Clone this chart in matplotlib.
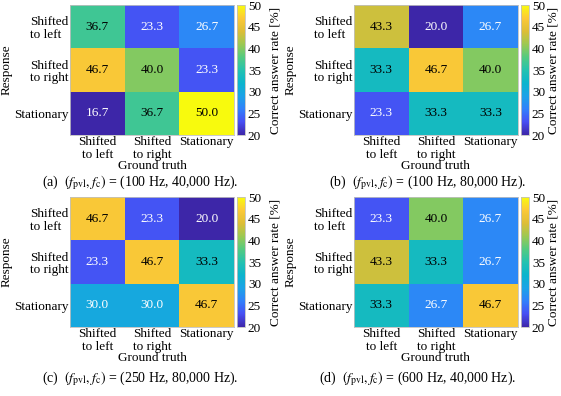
import numpy as np
import matplotlib
matplotlib.use("Agg")
import matplotlib.pyplot as plt
from matplotlib.colors import LinearSegmentedColormap

plt.rcParams['font.family'] = ['Liberation Serif', 'DejaVu Serif']
plt.rcParams['mathtext.fontset'] = 'stix'

# labels shared by all four panels
categories = ["Shifted\nto left", "Shifted\nto right", "Stationary"]
row_labels = ["Shifted\nto left", "Shifted\nto right", "Stationary"]

# correct answer rate [%], rows = response, cols = ground truth
rate_a = [[36.7, 23.3, 26.7],
          [46.7, 40.0, 23.3],
          [16.7, 36.7, 50.0]]
rate_b = [[43.3, 20.0, 26.7],
          [33.3, 46.7, 40.0],
          [23.3, 33.3, 33.3]]
rate_c = [[46.7, 23.3, 20.0],
          [23.3, 46.7, 33.3],
          [30.0, 30.0, 46.7]]
rate_d = [[23.3, 40.0, 26.7],
          [43.3, 33.3, 26.7],
          [33.3, 26.7, 46.7]]

captions = [
    r"(a)  $(f_{\mathrm{pvl}}, f_{\mathrm{c}})$ = (100 Hz, 40,000 Hz).",
    r"(b)  $(f_{\mathrm{pvl}}, f_{\mathrm{c}})$ = (100 Hz, 80,000 Hz).",
    r"(c)  $(f_{\mathrm{pvl}}, f_{\mathrm{c}})$ = (250 Hz, 80,000 Hz).",
    r"(d)  $(f_{\mathrm{pvl}}, f_{\mathrm{c}})$ = (600 Hz, 40,000 Hz).",
]

# parula-like colormap
parula_pts = [
    (0.2422, 0.1504, 0.6603),
    (0.2786, 0.3110, 0.9553),
    (0.1938, 0.5032, 0.9846),
    (0.1085, 0.6379, 0.9066),
    (0.0453, 0.7076, 0.8031),
    (0.1402, 0.7602, 0.6900),
    (0.3307, 0.7941, 0.5006),
    (0.6107, 0.7860, 0.3227),
    (0.8645, 0.7434, 0.2163),
    (0.9906, 0.7891, 0.2174),
    (0.9763, 0.9831, 0.0538),
]
parula = LinearSegmentedColormap.from_list("parula", parula_pts)

fig = plt.figure(figsize=(5.61, 3.96), dpi=100)

# [left, bottom] of each heatmap, colorbar left, colorbar label pad
layout = [
    (0.125, 0.659, 0.4225, 6),
    (0.631, 0.659, 0.9287, 2),
    (0.125, 0.174, 0.4225, 6),
    (0.631, 0.174, 0.9287, 2),
]
cap_x = [0.25, 0.763, 0.25, 0.745]
cap_y = [0.538, 0.538, 0.043, 0.043]

fs = 9.5
for i, rate in enumerate([rate_a, rate_b, rate_c, rate_d]):
    left, bottom, cbl, lpad = layout[i]
    ax = fig.add_axes([left, bottom, 0.292, 0.328])
    cax = fig.add_axes([cbl, bottom, 0.0145, 0.328])
    data = np.array(rate)
    im = ax.imshow(data, cmap=parula, vmin=20, vmax=50, aspect='auto')
    for r in range(3):
        for c in range(3):
            v = data[r, c]
            col = 'black' if v > 31 else 'white'
            ax.text(c, r, f"{v:.1f}", ha='center', va='center',
                    fontsize=fs, color=col)
    ax.set_xticks(range(3))
    ax.set_xticklabels(categories, fontsize=fs, linespacing=1.1)
    ax.set_yticks(range(3))
    ax.set_yticklabels(row_labels, fontsize=fs, linespacing=1.05,
                       multialignment='left')
    ax.tick_params(length=0, pad=1)
    ax.set_xlabel("Ground truth", fontsize=fs, labelpad=-1)
    ax.set_ylabel("Response", fontsize=fs)
    ax.yaxis.set_label_coords(-0.35, 0.5)
    for s in ax.spines.values():
        s.set_color('#c0c0c0')
        s.set_linewidth(0.6)

    cb = fig.colorbar(im, cax=cax)
    cb.set_ticks([20, 25, 30, 35, 40, 45, 50])
    cb.ax.tick_params(labelsize=fs, length=0, pad=2)
    cb.outline.set_edgecolor('#c0c0c0')
    cb.outline.set_linewidth(0.6)
    cb.set_label("Correct answer rate [%]", fontsize=fs, labelpad=lpad)

    fig.text(cap_x[i], cap_y[i], captions[i], ha='center', va='center',
             fontsize=10)

fig.savefig("out.png", dpi=100)
